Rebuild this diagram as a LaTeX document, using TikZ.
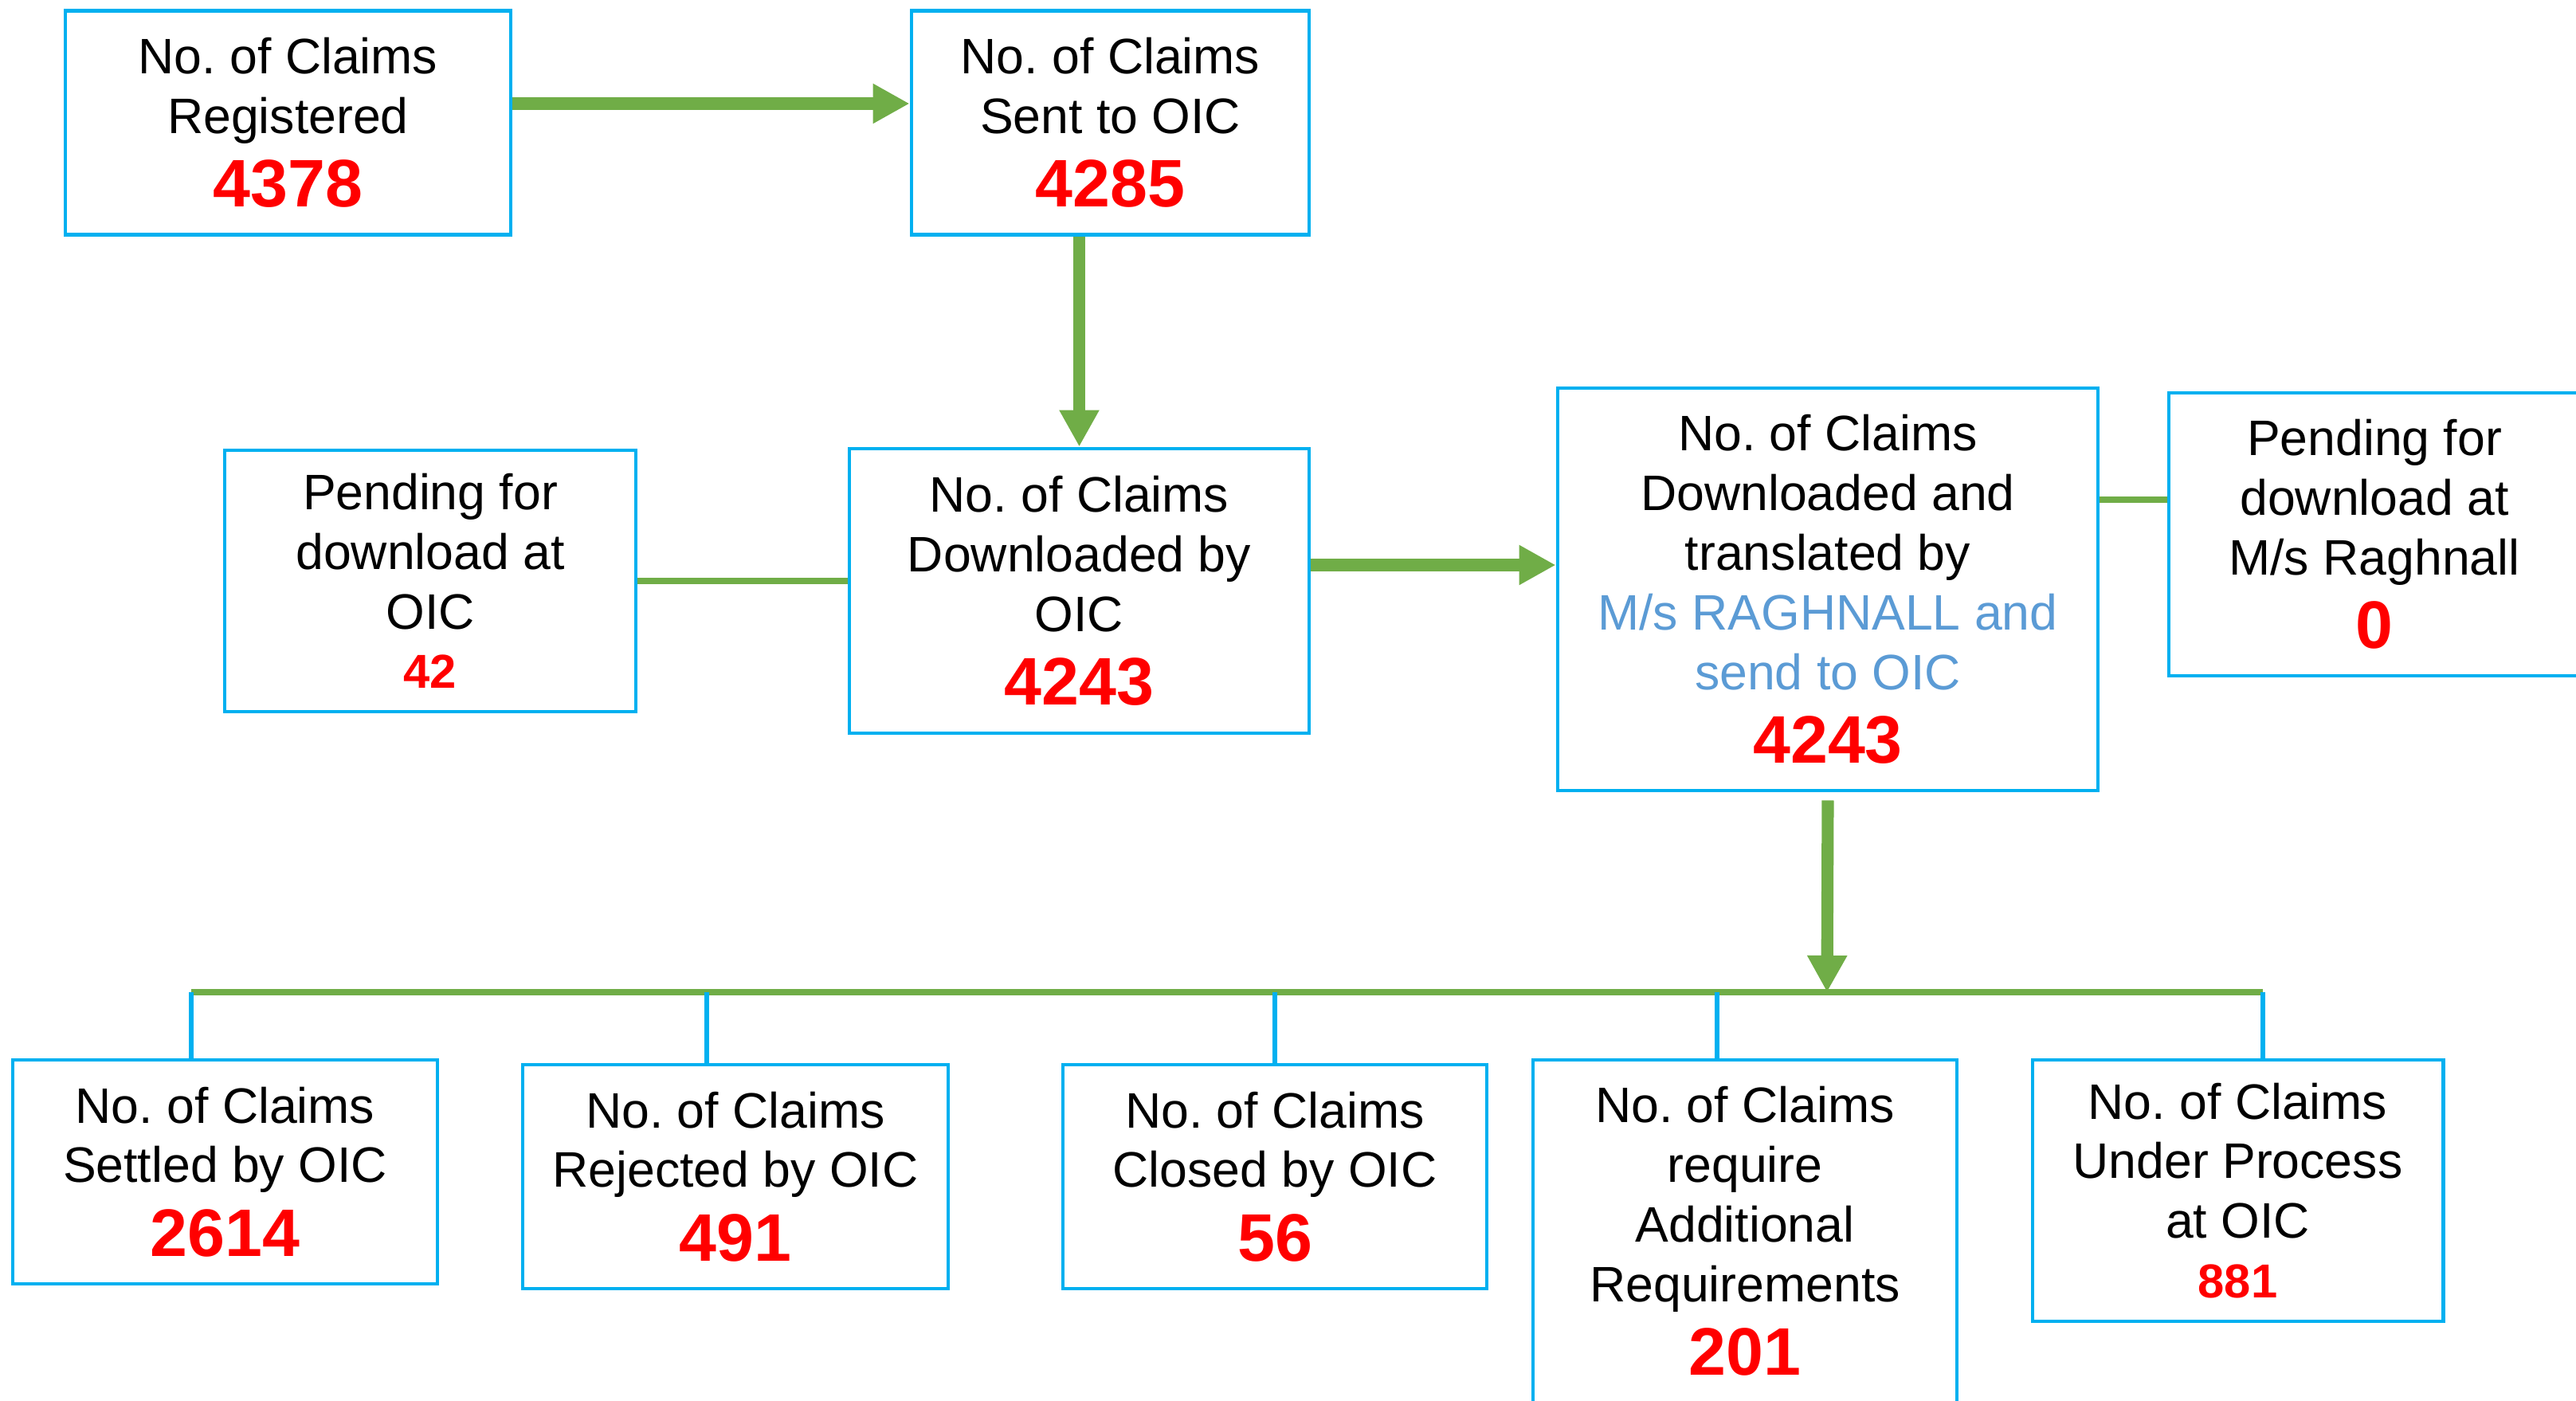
\documentclass[tikz,border=0pt]{standalone}
\usepackage{fontspec}
\setmainfont{Liberation Sans}
\usepackage{xcolor}
\usepackage{tikz}
\usetikzlibrary{positioning,arrows.meta,calc}
\definecolor{boxblue}{HTML}{00B0F0}
\definecolor{flowgreen}{HTML}{70AD47}
\definecolor{numred}{HTML}{FF0000}
\definecolor{noteblue}{HTML}{5B9BD5}
\newcommand{\bignum}[1]{{\fontsize{24}{28}\selectfont\bfseries\color{numred}#1}}
\newcommand{\smallnum}[1]{{\fontsize{17}{20}\selectfont\bfseries\color{numred}#1}}
\tikzset{
  box/.style={rectangle,draw=boxblue,fill=white,line width=1.4pt,
    align=center,inner sep=0pt,font=\fontsize{17.8}{21.3}\selectfont\frenchspacing},
  fl/.style={-{Triangle[length=4.6mm,width=4.7mm]},draw=flowgreen,line width=4.3pt},
  link/.style={draw=flowgreen,line width=2pt},
  drop/.style={draw=boxblue,line width=1.8pt},
}
\begin{document}
\begin{tikzpicture}
  \useasboundingbox (0,0) rectangle (32.33,-17.58);
  \node[box,minimum width=5.59cm,minimum height=2.81cm] (reg) at (3.615,-1.54) {No. of Claims\\Registered\\[5pt]\bignum{4378}};
  \node[box,minimum width=4.99cm,minimum height=2.81cm] (sent) at (13.935,-1.54) {No. of Claims\\Sent to OIC\\[5pt]\bignum{4285}};
  \node[box,minimum width=5.16cm,minimum height=3.28cm] (pendoic) at (5.40,-7.29) {Pending for\\download at\\OIC\\\smallnum{42}};
  \node[box,minimum width=5.77cm,minimum height=3.57cm] (dloic) at (13.545,-7.415) {No. of Claims\\Downloaded by\\OIC\\[5pt]\bignum{4243}};
  \node[box,minimum width=6.78cm,minimum height=5.05cm] (trans) at (22.94,-7.395) {No. of Claims\\Downloaded and\\translated by\\{\color{noteblue}M/s RAGHNALL and}\\{\color{noteblue}send to OIC}\\[5pt]\bignum{4243}};
  \node[box,minimum width=5.16cm,minimum height=3.55cm] (pendrag) at (29.80,-6.705) {Pending for\\download at\\M/s Raghnall\\[5pt]\bignum{0}};
  \node[box,minimum width=5.33cm,minimum height=2.81cm] (settled) at (2.825,-14.705) {No. of Claims\\Settled by OIC\\[5pt]\bignum{2614}};
  \node[box,minimum width=5.34cm,minimum height=2.81cm] (rejected) at (9.23,-14.765) {No. of Claims\\Rejected by OIC\\[5pt]\bignum{491}};
  \node[box,minimum width=5.32cm,minimum height=2.81cm] (closed) at (16.00,-14.765) {No. of Claims\\Closed by OIC\\[5pt]\bignum{56}};
  \node[box,minimum width=5.32cm,minimum height=4.30cm] (addl) at (21.90,-15.45) {No. of Claims\\require\\Additional\\Requirements\\[5pt]\bignum{201}};
  \node[box,minimum width=5.15cm,minimum height=3.28cm] (underproc) at (28.085,-14.94) {No. of Claims\\Under Process\\at OIC\\\smallnum{881}};
  \coordinate (bus) at (22.93,-12.45);
  \coordinate (b1) at (2.40,-12.45);
  \coordinate (b2) at (8.87,-12.45);
  \coordinate (b3) at (16.00,-12.45);
  \coordinate (b4) at (21.55,-12.45);
  \coordinate (b5) at (28.40,-12.45);
  \coordinate (j) at ([yshift=4.35mm]pendrag.west);
  \draw[fl] ([yshift=2.4mm]reg.east) -- ([yshift=2.4mm]sent.west);
  \draw[fl] (sent.south -| dloic.north) -- (dloic.north);
  \draw[link] (pendoic.east) -- (pendoic.east -| dloic.west);
  \draw[fl] ([yshift=3.25mm]dloic.east) coordinate (a) -- (a -| trans.west);
  \draw[link] (j -| trans.east) -- (j);
  \draw[link] (b1) -- (b5);
  \draw[drop] (b1) -- (b1 |- settled.north);
  \draw[drop] (b2) -- (b2 |- rejected.north);
  \draw[drop] (b3) -- (b3 |- closed.north);
  \draw[drop] (b4) -- (b4 |- addl.north);
  \draw[drop] (b5) -- (b5 |- underproc.north);
  \draw[fl] ([yshift=-1mm]trans.south) -- (bus);
\end{tikzpicture}
\end{document}
